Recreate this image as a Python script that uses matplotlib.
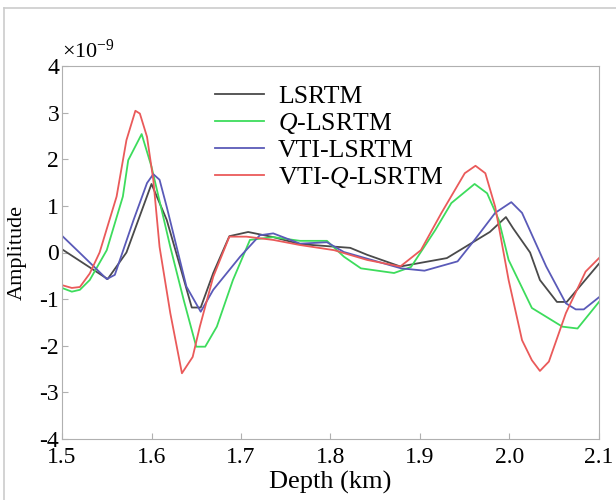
import matplotlib
matplotlib.use('Agg')
import matplotlib.pyplot as plt
import numpy as np
from matplotlib.ticker import FuncFormatter

plt.rcParams['font.family'] = ['Liberation Serif', 'DejaVu Serif']
plt.rcParams['mathtext.fontset'] = 'custom'
plt.rcParams['mathtext.rm'] = 'Liberation Serif'
plt.rcParams['mathtext.it'] = 'Liberation Serif:italic'
plt.rcParams['axes.unicode_minus'] = False

# amplitudes, in units of 1e-9
ls_x = [1.5, 1.551, 1.572, 1.600, 1.617, 1.632, 1.645, 1.655, 1.669, 1.687, 1.708, 1.736, 1.766,
        1.822, 1.841, 1.878, 1.930, 1.978, 1.996, 2.004, 2.023, 2.034, 2.053, 2.064, 2.1]
ls_y = [0.07, -0.57, 0.0, 1.47, 0.70, -0.30, -1.18, -1.18, -0.44, 0.35, 0.44, 0.33, 0.18,
        0.10, -0.05, -0.30, -0.12, 0.44, 0.76, 0.52, 0.0, -0.59, -1.06, -1.06, -0.24]

q_x = [1.5, 1.511, 1.52, 1.531, 1.550, 1.568, 1.574, 1.589, 1.600, 1.621, 1.636, 1.650, 1.660,
       1.673, 1.691, 1.710, 1.736, 1.766, 1.796, 1.815, 1.834, 1.871, 1.890, 1.917, 1.935,
       1.961, 1.975, 1.988, 1.999, 2.025, 2.059, 2.076, 2.1]
q_y = [-0.76, -0.84, -0.80, -0.59, 0.05, 1.20, 1.98, 2.54, 1.84, 0.12, -1.02, -2.02, -2.02,
       -1.59, -0.59, 0.27, 0.33, 0.25, 0.25, -0.09, -0.34, -0.44, -0.31, 0.48, 1.06,
       1.47, 1.27, 0.70, -0.16, -1.19, -1.59, -1.63, -1.06]

vti_x = [1.5, 1.520, 1.550, 1.559, 1.580, 1.595, 1.602, 1.609, 1.617, 1.639, 1.655, 1.669, 1.699,
         1.721, 1.736, 1.766, 1.796, 1.815, 1.879, 1.905, 1.942, 1.961, 1.984, 2.002, 2.014,
         2.041, 2.063, 2.074, 2.083, 2.1]
vti_y = [0.36, -0.01, -0.57, -0.48, 0.70, 1.49, 1.68, 1.56, 0.98, -0.73, -1.27, -0.80, -0.09,
         0.37, 0.41, 0.19, 0.22, 0.01, -0.34, -0.39, -0.19, 0.27, 0.85, 1.08, 0.85,
         -0.30, -1.09, -1.22, -1.22, -0.96]

vq_x = [1.5, 1.511, 1.52, 1.531, 1.542, 1.561, 1.572, 1.582, 1.587, 1.595, 1.602, 1.609, 1.621,
        1.634, 1.646, 1.654, 1.669, 1.687, 1.706, 1.736, 1.766, 1.804, 1.841, 1.878, 1.901,
        1.924, 1.950, 1.962, 1.973, 1.984, 1.999, 2.014, 2.025, 2.034, 2.044, 2.063, 2.085, 2.1]
vq_y = [-0.70, -0.76, -0.74, -0.45, 0.0, 1.20, 2.41, 3.04, 2.98, 2.48, 1.56, 0.12, -1.30,
        -2.59, -2.24, -1.59, -0.52, 0.34, 0.34, 0.27, 0.16, 0.05, -0.16, -0.30, 0.05,
        0.85, 1.70, 1.86, 1.70, 0.98, -0.59, -1.88, -2.31, -2.54, -2.34, -1.30, -0.41, -0.12]

labels = ['LSRTM', '$Q$-LSRTM', 'VTI-LSRTM', 'VTI-$Q$-LSRTM']
colors = ['#4a4a4a', '#3ddc5c', '#5a5ab8', '#ea5a5a']
xticks = [1.5, 1.6, 1.7, 1.8, 1.9, 2.0, 2.1]

fig = plt.figure(figsize=(6.16, 5.0), dpi=100)
ax = fig.add_axes([62/616, 61/500, 537/616, 373/500])

series = [(ls_x, ls_y), (q_x, q_y), (vti_x, vti_y), (vq_x, vq_y)]
for (x, y), lab, c in zip(series, labels, colors):
    ax.plot(x, np.array(y) * 1e-9, color=c, lw=1.3, label=lab)

ax.set_xlim(1.5, 2.1)
ax.set_ylim(-4e-9, 4e-9)
ax.set_xticks(xticks)
ax.set_xticklabels(['{:.1f}'.format(t) for t in xticks])
ax.set_yticks(np.arange(-4, 5) * 1e-9)
ax.yaxis.set_major_formatter(FuncFormatter(lambda v, p: '{:d}'.format(int(round(v / 1e-9)))))
ax.text(0.0, 1.008, r'×10$^{\mathrm{-9}}$', transform=ax.transAxes, fontsize=16,
        ha='left', va='bottom')

for s in ax.spines.values():
    s.set_color('#b0b0b0')
ax.tick_params(direction='in', length=4, color='#b0b0b0', labelsize=17)
ax.tick_params(axis='x', pad=6)
ax.tick_params(axis='y', pad=2)

ax.set_xlabel('Depth (km)', fontsize=19, labelpad=2)
ax.set_ylabel('Amplitude', fontsize=16)
ax.yaxis.set_label_coords(-0.066, 0.5)

leg = ax.legend(loc='upper left', bbox_to_anchor=(0.285, 0.95), frameon=False, fontsize=18.5,
                handlelength=1.9, handletextpad=0.55, labelspacing=0.12, borderpad=0,
                borderaxespad=0)

# light frame around the figure
fig.add_artist(plt.Line2D([4/616, 4/616], [0, 1 - 8/500], color='#cccccc', lw=1.2))
fig.add_artist(plt.Line2D([4/616, 1], [1 - 8/500, 1 - 8/500], color='#cccccc', lw=1.2))

fig.savefig('out.png', dpi=100)
